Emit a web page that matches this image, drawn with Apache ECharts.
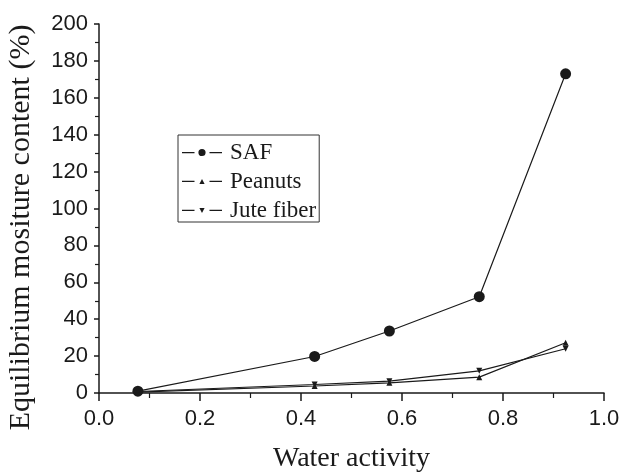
<!DOCTYPE html>
<html>
<head>
<meta charset="utf-8">
<script src="https://cdn.jsdelivr.net/npm/echarts@6/dist/echarts.min.js"></script>
<style>
  html, body { margin: 0; padding: 0; background: #fff; }
  #chart { width: 623px; height: 472px; }
</style>
</head>
<body>
<div id="chart"></div>
<script>
  // water activity values
  const aw = [0.077, 0.427, 0.575, 0.753, 0.924]
  const saf = [1.0, 19.8, 33.6, 52.2, 173.0]
  const peanuts = [0.5, 3.8, 5.5, 8.6, 27.2]
  const jute = [0.8, 4.6, 6.4, 12.0, 24.0]

  const pairs = ys => aw.map((x, i) => [x, ys[i]])
  const serif = 'Liberation Serif'
  const sans = 'Liberation Sans'
  const ink = '#1a1a1a'

  // legend icons "—•—" with gaps round the marker
  const dashes = 'M0,3.1H12.5V4.3H0Z M27.5,3.1H40V4.3H27.5Z'
  const iconCircle = 'path://' + dashes + ' M20,0A3.6,3.6 0 1,1 19.99,0Z'
  const iconUp = 'path://' + dashes + ' M17.4,6.2L22.6,6.2L20,1.4Z'
  const iconDown = 'path://' + dashes + ' M17.4,1.4L22.6,1.4L20,6.2Z'

  const chart = echarts.init(document.getElementById('chart'))
  chart.setOption({
    animation: false,
    grid: { left: 99, right: 19, top: 24, bottom: 79, outerBoundsMode: 'none' },
    legend: {
      orient: 'vertical',
      left: 178,
      top: 135,
      padding: [6, 3, 0, 4],
      itemGap: 6,
      itemWidth: 40,
      itemHeight: 12,
      borderColor: '#333',
      borderWidth: 1,
      textStyle: { fontFamily: serif, fontSize: 23, color: ink, padding: [0, 0, 0, 3] },
      data: [
        { name: 'SAF', icon: iconCircle },
        { name: 'Peanuts', icon: iconUp },
        { name: 'Jute fiber', icon: iconDown }
      ]
    },
    xAxis: {
      type: 'value',
      min: 0,
      max: 1,
      interval: 0.2,
      name: 'Water activity',
      nameLocation: 'middle',
      nameGap: 52,
      nameTextStyle: { fontFamily: serif, fontSize: 28, color: ink },
      axisLine: { lineStyle: { color: ink, width: 1.5 } },
      axisTick: { length: 8, lineStyle: { color: ink, width: 1.5 } },
      minorTick: { show: true, splitNumber: 2, length: 5, lineStyle: { color: ink, width: 1.2 } },
      axisLabel: { fontFamily: sans, fontSize: 22, color: ink, margin: 15, formatter: v => v.toFixed(1) },
      splitLine: { show: false }
    },
    yAxis: {
      type: 'value',
      min: 0,
      max: 200,
      interval: 20,
      name: 'Equilibrium mositure content (%)',
      nameLocation: 'middle',
      nameGap: 63,
      nameTextStyle: { fontFamily: serif, fontSize: 30, color: ink, padding: [0, 38, 0, 0] },
      axisLine: { show: true, lineStyle: { color: ink, width: 1.5 } },
      axisTick: { show: true, length: 5, lineStyle: { color: ink, width: 1.5 } },
      minorTick: { show: true, splitNumber: 2, length: 4, lineStyle: { color: ink, width: 1.2 } },
      axisLabel: { fontFamily: sans, fontSize: 22, color: ink, margin: 11 },
      splitLine: { show: false }
    },
    series: [
      {
        name: 'SAF',
        type: 'line',
        data: pairs(saf),
        symbol: 'circle',
        symbolSize: 11,
        itemStyle: { color: ink },
        lineStyle: { color: ink, width: 1.2 }
      },
      {
        name: 'Peanuts',
        type: 'line',
        data: pairs(peanuts),
        symbol: 'triangle',
        symbolSize: 6,
        itemStyle: { color: ink },
        lineStyle: { color: ink, width: 1.2 }
      },
      {
        name: 'Jute fiber',
        type: 'line',
        data: pairs(jute),
        symbol: 'triangle',
        symbolRotate: 180,
        symbolSize: 6,
        itemStyle: { color: ink },
        lineStyle: { color: ink, width: 1.2 }
      }
    ]
  })
</script>
</body>
</html>
